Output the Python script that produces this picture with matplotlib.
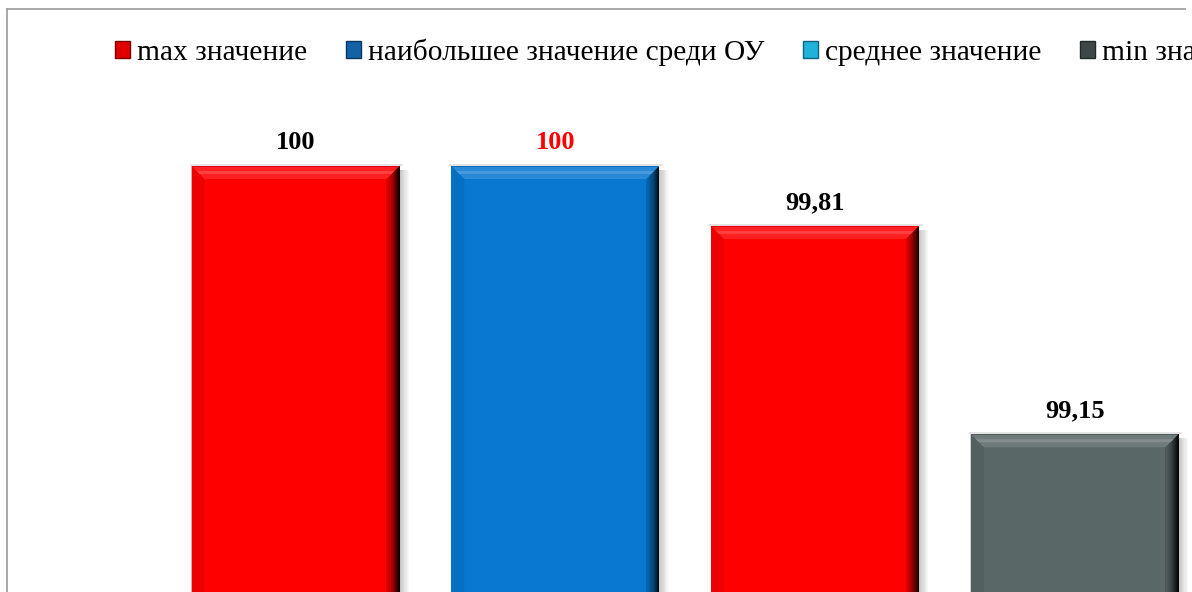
import numpy as np
import matplotlib
matplotlib.use('Agg')
import matplotlib.pyplot as plt
from matplotlib.patches import Polygon, Rectangle
from matplotlib.lines import Line2D
from matplotlib.colors import to_rgb
from matplotlib.transforms import IdentityTransform

# data
series = ['max значение', 'наибольшее значение среди ОУ', 'среднее значение', 'min значение']
values = [100, 100, 99.81, 99.15]
value_labels = ['100', '100', '99,81', '99,15']
bar_colors = ['#ff0000', '#0877d0', '#ff0000', '#5a6767']
label_colors = ['black', '#ff0000', 'black', 'black']
legend_colors = ['#e00000', '#1262a8', '#1fb3db', '#3f4848']

W_PX, H_PX = 1192, 592
fig = plt.figure(figsize=(W_PX / 100, H_PX / 100), dpi=100)
fig.patch.set_facecolor('white')

pitch = 259.7
ax_left = 295.5 - 0.5 * pitch
ax_top = 100
ax = fig.add_axes([ax_left / W_PX, 0, 4 * pitch / W_PX, (H_PX - ax_top) / H_PX])
ax.set_xlim(-0.5, 3.5)
ymin, ymax = 98.6498, 100.2092
ax.set_ylim(ymin, ymax)
ax.axis('off')


def mix(c, t, k):
    return tuple(np.array(to_rgb(c)) * (1 - k) + np.array(to_rgb(t)) * k)


x = np.arange(len(values))
bars = ax.bar(x, [v - ymin + 1 for v in values], bottom=ymin - 1, width=0.8,
              color=bar_colors, zorder=2, linewidth=0)

# bevel / shadow decoration drawn in pixels
for b, c in zip(bars, bar_colors):
    (x0, y0), (x1, y1) = ax.transData.transform([(b.get_x(), ymin), (b.get_x() + b.get_width(), b.get_y() + b.get_height())])
    y0 = y0 - 20
    W = 13
    # shadow on the right
    n = 8
    for i in range(n):
        sx = x1 + i * 1.2
        ax.add_patch(Rectangle((sx, y0), 1.2, y1 - 4 - y0, transform=IdentityTransform(),
                               color=mix('white', '#808080', 0.45 * (1 - i / n)), lw=0, zorder=1))
    ax.add_patch(Rectangle((x0 - 2, y1), x1 - x0 + 6, 2, transform=IdentityTransform(),
                           color='#e4e4e4', lw=0, zorder=1))
    # left band
    ax.add_patch(Polygon([(x0, y0), (x0, y1), (x0 + W, y1 - W), (x0 + W, y0)], closed=True,
                         transform=IdentityTransform(), color=mix(c, 'black', 0.07), lw=0, zorder=3))
    # right band gradient
    n = 12
    for i in range(n):
        xa = x1 - W + i * W / n
        ax.add_patch(Rectangle((xa, y0), W / n + 0.3, y1 - y0, transform=IdentityTransform(),
                               color=mix(c, 'black', 0.15 + 0.75 * (i / (n - 1)) ** 1.5), lw=0, zorder=3))
    # top band
    ax.add_patch(Polygon([(x0, y1), (x1, y1), (x1 - W, y1 - W), (x0 + W, y1 - W)], closed=True,
                         transform=IdentityTransform(), color=mix(c, 'white', 0.13), lw=0, zorder=4))
    ax.add_patch(Polygon([(x0 + 5, y1 - 5), (x1 - 5, y1 - 5), (x1 - 8, y1 - 8), (x0 + 8, y1 - 8)], closed=True,
                         transform=IdentityTransform(), color=mix(c, 'white', 0.25), lw=0, zorder=4))
    ax.add_patch(Rectangle((x0, y1 - 1.2), x1 - x0, 1.2, transform=IdentityTransform(),
                           color=mix(c, 'black', 0.1), lw=0, zorder=4))

for xi, v, lab, lc in zip(x, values, value_labels, label_colors):
    ax.annotate(lab, (xi, v), xytext=(0, 12), textcoords='offset points', ha='center', va='baseline',
                fontsize=19, fontweight='bold', family='Liberation Serif', color=lc, zorder=5)

handles = [Rectangle((0, 0), 1, 1, facecolor=lc, edgecolor=mix(lc, 'black', 0.45), lw=1)
           for lc in legend_colors]
fig.legend(handles, series, loc='center left', bbox_to_anchor=(115 / W_PX, 1 - 52 / H_PX), ncol=4,
           frameon=False, borderpad=0, borderaxespad=0, handlelength=0.52, handleheight=0.52,
           handletextpad=0.22, columnspacing=1.32, prop=dict(family='Liberation Serif', size=21.2))

# outer chart frame
fig.add_artist(Line2D([7 / W_PX, 1185 / W_PX], [1 - 8.5 / H_PX] * 2, transform=fig.transFigure,
                      color='#a0a0a0', lw=1.3))
fig.add_artist(Line2D([7.5 / W_PX] * 2, [1 - 8.5 / H_PX, 0], transform=fig.transFigure,
                      color='#a0a0a0', lw=1.3))

fig.savefig('out.png', dpi=100)
